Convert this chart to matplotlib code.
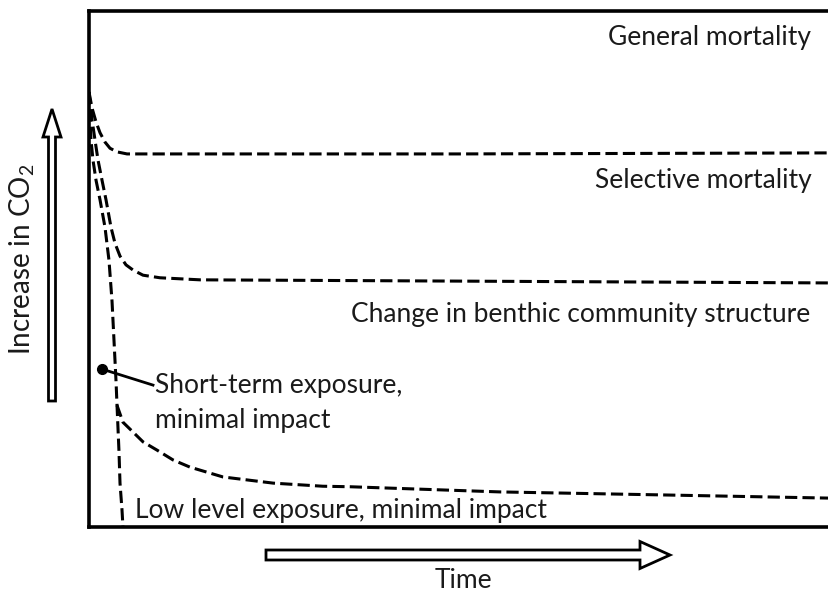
import matplotlib
matplotlib.use("Agg")
import matplotlib.pyplot as plt
from matplotlib.patches import FancyArrow

plt.rcParams['font.family'] = ['Lato', 'DejaVu Sans']
plt.rcParams['mathtext.fontset'] = 'custom'
plt.rcParams['mathtext.rm'] = 'Lato'

# curvas (tempo 0-100, CO2 0-100)
t_geral = [0, 0.41, 0.95, 1.49, 2.16, 2.84, 3.78, 5.14, 50, 100]
c_geral = [84.3, 81.2, 78.5, 76.4, 74.6, 73.4, 72.7, 72.3, 72.3, 72.5]

t_seletiva = [0, 0.41, 0.81, 1.22, 1.76, 2.30, 2.97, 3.51, 4.19, 5.0, 5.95, 7.30, 9.59, 15.0, 100]
c_seletiva = [84.3, 78.9, 75.0, 71.1, 67.2, 63.4, 58.1, 55.0, 52.5, 50.8, 49.8, 48.8, 48.3, 47.9, 47.3]

t_curto = [0, 0.14, 0.27, 0.54, 0.95, 1.49, 2.16, 2.70, 3.11, 3.38, 3.65, 3.78, 4.05, 4.19, 4.46, 4.59]
c_curto = [84.3, 78.9, 75.0, 71.1, 67.2, 63.4, 58.1, 51.7, 43.8, 36.1, 28.3, 23.8, 14.7, 8.5, 3.3, 0]

t_baixo = [3.78, 4.59, 5.95, 7.30, 9.19, 11.35, 13.65, 18.1, 24.9, 31.6, 35.3, 55.5, 78.1, 100]
c_baixo = [23.6, 20.3, 18.4, 16.5, 14.9, 13.0, 11.6, 9.7, 8.5, 7.9, 7.8, 6.8, 6.2, 5.6]

ponto = (1.76, 30.6)
fim_seta = (8.65, 27.5)

cor_texto = '#1a1a1a'
tam = 19

fig = plt.figure(figsize=(8.29, 5.94), dpi=100)
ax = fig.add_axes([89 / 829, 1 - 527 / 594, 1 - 89 / 829, (527 - 11) / 594])

for t, c in [(t_geral, c_geral), (t_seletiva, c_seletiva), (t_curto, c_curto), (t_baixo, c_baixo)]:
    ax.plot(t, c, color='black', linewidth=2.2, dashes=[4, 1.7], solid_capstyle='butt')

ax.plot([ponto[0], fim_seta[0]], [ponto[1], fim_seta[1]], color='black', linewidth=2)
ax.plot(ponto[0], ponto[1], 'o', color='black', markersize=7)

ax.set_xlim(0, 100)
ax.set_ylim(0, 100)
ax.set_xticks([])
ax.set_yticks([])
ax.spines['right'].set_visible(False)
for s in ['left', 'top', 'bottom']:
    ax.spines[s].set_linewidth(2.6)

ax.text(97.6, 93.4, 'General mortality', ha='right', va='baseline', fontsize=tam, color=cor_texto)
ax.text(97.7, 65.7, 'Selective mortality', ha='right', va='baseline', fontsize=tam, color=cor_texto)
ax.text(97.4, 39.7, 'Change in benthic community structure', ha='right', va='baseline', fontsize=tam, color=cor_texto)
ax.text(8.9, 26.0, 'Short-term exposure,', ha='left', va='baseline', fontsize=tam, color=cor_texto)
ax.text(8.9, 19.2, 'minimal impact', ha='left', va='baseline', fontsize=tam, color=cor_texto)
ax.text(6.2, 1.7, 'Low level exposure, minimal impact', ha='left', va='baseline', fontsize=tam, color=cor_texto)

# setas ocas dos eixos (em polegadas)
seta_v = FancyArrow(0.52, 1.93, 0, 2.92, width=0.07, head_width=0.18, head_length=0.28,
                    length_includes_head=True, facecolor='white', edgecolor='black', linewidth=2,
                    transform=fig.dpi_scale_trans)
seta_h = FancyArrow(2.66, 0.39, 4.04, 0, width=0.10, head_width=0.27, head_length=0.30,
                    length_includes_head=True, facecolor='white', edgecolor='black', linewidth=2,
                    transform=fig.dpi_scale_trans)
fig.patches.extend([seta_v, seta_h])

fig.text(22 / 829, 1 - 259 / 594, 'Increase in CO$\\mathregular{_2}$', rotation=90, ha='center', va='center',
         fontsize=tam + 1, color=cor_texto)
fig.text(463 / 829, 1 / 594, 'Time', ha='center', va='bottom', fontsize=tam, color=cor_texto)

fig.savefig('out.png', dpi=100)
